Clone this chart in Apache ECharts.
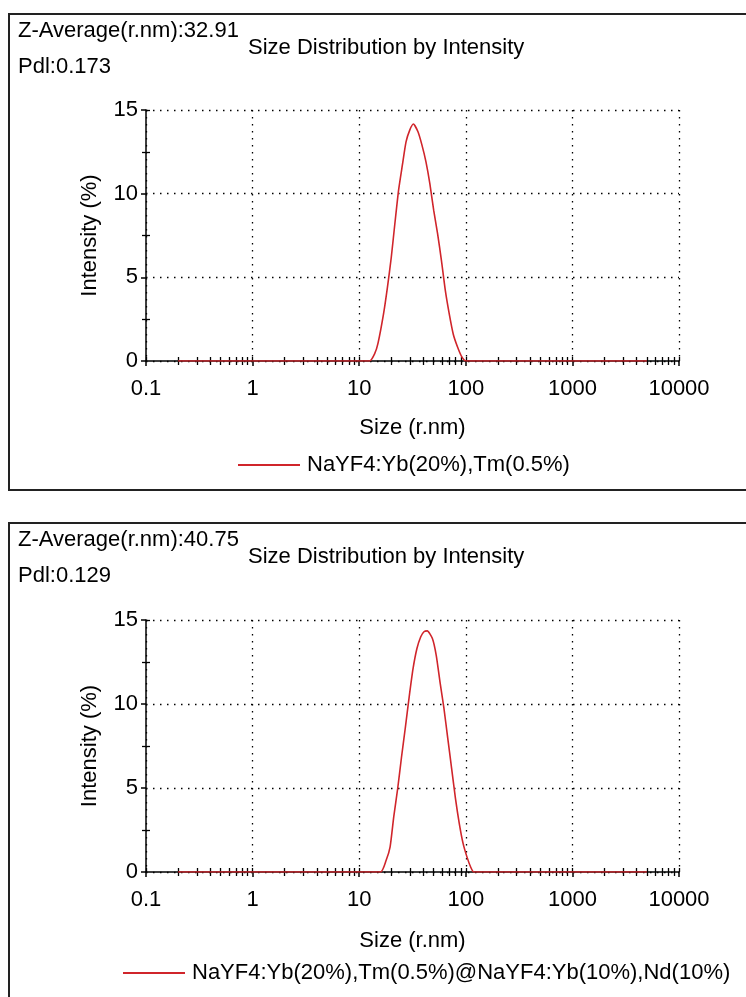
<!DOCTYPE html>
<html>
<head>
<meta charset="utf-8">
<script src="https://cdn.jsdelivr.net/npm/echarts@6/dist/echarts.min.js"></script>
<style>
html,body{margin:0;padding:0;background:#fff;}
#c{width:746px;height:997px;}
</style>
</head>
<body>
<div id="c"></div>
<script>
// ---- data ----
const xTickLabels = ['0.1', '1', '10', '100', '1000', '10000'];
const yTickLabels = ['0', '5', '10', '15'];

const nameA = 'NaYF4:Yb(20%),Tm(0.5%)';
const sizesA = [0.2, 12.5, 14.0, 15.0, 16.9, 18.4, 20.0, 21.6, 23.4, 25.4, 27.5, 29.8, 32.2, 35.6, 38.8, 42.3, 46.0, 50.0, 54.4, 59.1, 64.3, 70.0, 76.3, 83.5, 91.5, 100.5, 5000];
const intensityA = [0, 0, 0.45, 1.05, 2.8, 4.4, 6.2, 8.2, 10.2, 11.7, 13.1, 13.8, 14.16, 13.7, 12.9, 11.9, 10.6, 9.0, 7.6, 6.0, 4.2, 2.8, 1.6, 0.85, 0.26, 0, 0];

const nameB = 'NaYF4:Yb(20%),Tm(0.5%)@NaYF4:Yb(10%),Nd(10%)';
const sizesB = [0.2, 15.8, 17.9, 19.5, 21.1, 23.0, 24.9, 27.1, 29.4, 32.0, 34.8, 37.8, 40.5, 43.5, 48.6, 52.8, 57.3, 62.2, 67.6, 73.5, 79.9, 86.8, 94.3, 102.5, 111, 119, 5000];
const intensityB = [0, 0, 0.7, 1.5, 3.3, 5.0, 6.8, 8.6, 10.4, 12.1, 13.3, 14.0, 14.3, 14.35, 13.9, 12.9, 11.3, 9.8, 8.0, 6.2, 4.4, 2.9, 1.7, 0.9, 0.3, 0, 0];

const headerA = ['Z-Average(r.nm):32.91', 'Pdl:0.173'];
const headerB = ['Z-Average(r.nm):40.75', 'Pdl:0.129'];
const chartTitle = 'Size Distribution by Intensity';
const xName = 'Size (r.nm)';
const yName = 'Intensity (%)';

// ---- helpers ----
const FONT = '"Liberation Sans", Arial, sans-serif';
const FS = 22;
const decadeValues = xTickLabels.map(Number);
const minorValues = [];
for (let d = 0; d < decadeValues.length - 1; d++) {
  for (let k = 2; k <= 9; k++) minorValues.push(+(decadeValues[d] * k).toPrecision(6));
}
const allTickValues = decadeValues.concat(minorValues);
const yMinor = [2.5, 7.5, 12.5];

function pairs(xs, ys) { return xs.map((x, i) => [x, ys[i]]); }

const panels = [
  { top: 110, height: 251, hTop: 23, header: headerA, name: nameA, sizes: sizesA, vals: intensityA, legendLeft: 238, legendTop: 454, nameGap: 56 },
  { top: 620, height: 252, hTop: 532, header: headerB, name: nameB, sizes: sizesB, vals: intensityB, legendLeft: 123, legendTop: 962, nameGap: 58 }
];

const grid = [], xAxis = [], yAxis = [], series = [], title = [], legend = [];
panels.forEach((p, gi) => {
  grid.push({ left: 146, width: 533, top: p.top, height: p.height, containLabel: false });
  xAxis.push({
    type: 'log', logBase: 10, min: 0.1, max: 10000, gridIndex: gi, position: 'bottom',
    name: xName, nameLocation: 'middle', nameGap: p.nameGap,
    nameTextStyle: { fontSize: FS, fontFamily: FONT, color: '#000' },
    axisLine: { show: true, lineStyle: { color: '#000', width: 1.5 } },
    axisTick: { show: true, inside: false, length: 5, lineStyle: { color: '#000', width: 1.5 } },
    axisLabel: { fontSize: FS, fontFamily: FONT, color: '#000', margin: 17,
      formatter: v => { const i = decadeValues.findIndex(d => Math.abs(Math.log10(d) - Math.log10(v)) < 1e-6); return i >= 0 ? xTickLabels[i] : ''; } },
    splitLine: { show: true, lineStyle: { color: '#000', type: [1.5, 5.5], width: 1.3 } },
    minorTick: { show: false }
  });
  xAxis.push({
    type: 'log', logBase: 10, min: 0.1, max: 10000, gridIndex: gi, position: 'bottom', offset: 0,
    axisLine: { show: false },
    axisTick: { show: true, inside: false, length: 4, customValues: minorValues, lineStyle: { color: '#000', width: 1.3 } },
    axisLabel: { show: false }, splitLine: { show: false }
  });
  xAxis.push({
    type: 'log', logBase: 10, min: 0.1, max: 10000, gridIndex: gi, position: 'bottom', offset: 0,
    axisLine: { show: false },
    axisTick: { show: true, inside: true, length: 4, customValues: allTickValues, lineStyle: { color: '#000', width: 1.3 } },
    axisLabel: { show: false }, splitLine: { show: false }
  });
  yAxis.push({
    type: 'value', min: 0, max: 15, interval: 5, gridIndex: gi, position: 'left',
    name: yName, nameLocation: 'middle', nameGap: 45, nameRotate: 90,
    nameTextStyle: { fontSize: FS, fontFamily: FONT, color: '#000' },
    axisLine: { show: true, lineStyle: { color: '#000', width: 1.5 } },
    axisTick: { show: true, inside: false, length: 5, lineStyle: { color: '#000', width: 1.5 } },
    minorTick: { show: true, splitNumber: 2, length: 4, lineStyle: { color: '#000', width: 1.3 } },
    axisLabel: { fontSize: FS, fontFamily: FONT, color: '#000', margin: 8,
      formatter: v => { const i = yTickLabels.indexOf(String(v)); return i >= 0 ? yTickLabels[i] : ''; } },
    splitLine: { show: true, lineStyle: { color: '#000', type: [1.5, 5.5], width: 1.3 } }
  });
  yAxis.push({
    type: 'value', min: 0, max: 15, interval: 5, gridIndex: gi, position: 'left', offset: 0,
    axisLine: { show: false },
    axisTick: { show: true, inside: true, length: 4, customValues: yMinor.concat([15]), lineStyle: { color: '#000', width: 1.3 } },
    axisLabel: { show: false }, splitLine: { show: false }
  });
  series.push({
    name: p.name, type: 'line', xAxisIndex: gi * 3, yAxisIndex: gi * 2,
    data: pairs(p.sizes, p.vals), symbol: 'none', showSymbol: false, smooth: 0.2,
    lineStyle: { color: '#d0252b', width: 1.6 }, itemStyle: { color: '#d0252b' },
    animation: false, z: 5
  });
  const ts = { fontSize: FS, fontFamily: FONT, color: '#000', fontWeight: 'normal' };
  title.push({ text: p.header[0], left: 18, top: p.hTop - 3, padding: 0, textStyle: ts });
  title.push({ text: p.header[1], left: 18, top: p.hTop + 33, padding: 0, textStyle: ts });
  title.push({ text: chartTitle, left: 248, top: p.hTop + 14, padding: 0, textStyle: ts });
  legend.push({
    data: [p.name], left: p.legendLeft, top: p.legendTop, padding: 0,
    icon: 'rect', itemWidth: 62, itemHeight: 2, itemGap: 6,
    textStyle: { fontSize: FS, fontFamily: FONT, color: '#000', padding: [0, 0, 0, 2] }
  });
});

const chart = echarts.init(document.getElementById('c'), null, { renderer: 'canvas' });
chart.setOption({
  backgroundColor: '#fff',
  animation: false,
  title, legend, grid, xAxis, yAxis, series,
  graphic: [
    { type: 'rect', shape: { x: 9, y: 14, width: 800, height: 476 }, style: { fill: 'none', stroke: '#222', lineWidth: 2 }, z: 0 },
    { type: 'rect', shape: { x: 9, y: 523, width: 800, height: 520 }, style: { fill: 'none', stroke: '#222', lineWidth: 2 }, z: 0 }
  ]
});
</script>
</body>
</html>
